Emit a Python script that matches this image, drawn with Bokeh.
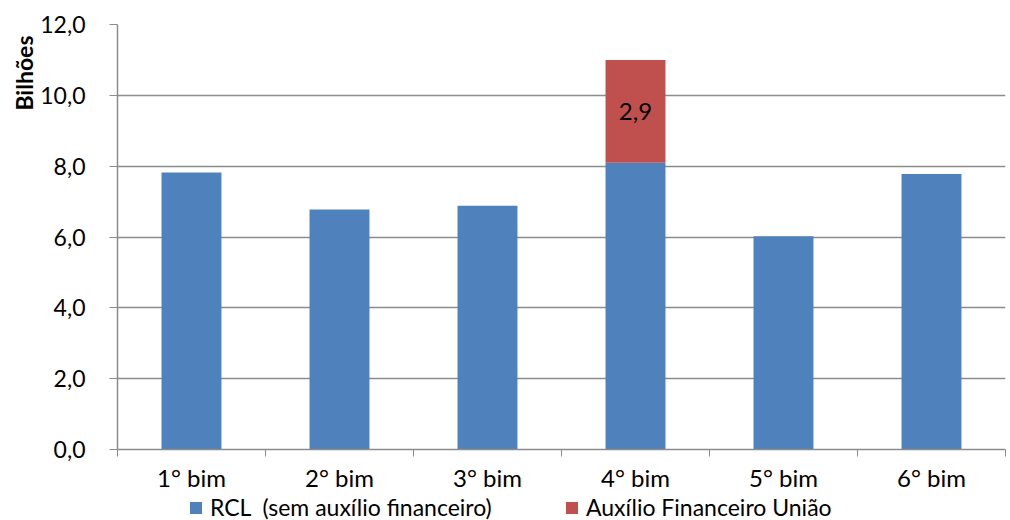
from bokeh.plotting import figure
from bokeh.layouts import column
from bokeh.models import (ColumnDataSource, Range1d, FixedTicker, CustomJSTickFormatter,
                          Legend, LegendItem, Title)
from bokeh.core.properties import value
from bokeh.embed import file_html
from bokeh.resources import INLINE

categories = ["1° bim", "2° bim", "3° bim", "4° bim", "5° bim", "6° bim"]
rcl = [7.82, 6.78, 6.88, 8.10, 6.02, 7.78]
auxilio = [0.0, 0.0, 0.0, 2.9, 0.0, 0.0]
y_ticks = [0, 2, 4, 6, 8, 10, 12]
series_names = ["RCL  (sem auxílio financeiro)", "Auxílio Financeiro União"]

FONT = "Lato"
BLUE = "#4F81BD"
RED = "#C0504D"
GRID = "#8c8c8c"

xs = [i + 0.5 for i in range(len(categories))]
src = ColumnDataSource(dict(x=xs, rcl=rcl, aux=auxilio))

p = figure(width=1010, height=494, output_backend="svg", toolbar_location=None,
           x_range=Range1d(0, len(categories)), y_range=Range1d(0, 12),
           min_border_left=117, min_border_right=5, min_border_top=24, min_border_bottom=42)
p.outline_line_color = None
p.background_fill_color = "white"
p.border_fill_color = "white"

renderers = p.vbar_stack(["rcl", "aux"], x="x", width=0.405, color=[BLUE, RED],
                         line_color=None, source=src)

# data label for auxilio
lab_x = [x for x, a in zip(xs, auxilio) if a > 0]
lab_y = [r + a / 2 for r, a in zip(rcl, auxilio) if a > 0]
lab_t = [("%.1f" % a).replace(".", ",") for a in auxilio if a > 0]
p.text(x=lab_x, y=lab_y, text=lab_t, text_align="center", text_baseline="middle",
       text_font=value(FONT), text_font_size="24px", text_color="black")

# x axis
xax = p.xaxis[0]
xax.ticker = FixedTicker(ticks=xs, minor_ticks=list(range(len(categories) + 1)))
xax.formatter = CustomJSTickFormatter(args=dict(labels=categories),
                                      code="return labels[Math.floor(tick)];")
xax.major_tick_out = 0
xax.major_tick_in = 0
xax.minor_tick_out = 7
xax.minor_tick_in = 0
xax.minor_tick_line_color = GRID
xax.axis_line_color = GRID
xax.axis_line_width = 1.5
xax.major_label_text_font = FONT
xax.major_label_text_font_size = "24px"
xax.major_label_text_color = "black"
xax.major_label_standoff = 6

# y axis
yax = p.yaxis[0]
yax.ticker = FixedTicker(ticks=y_ticks)
yax.formatter = CustomJSTickFormatter(code="return tick.toFixed(1).replace('.', ',');")
yax.major_tick_out = 8
yax.major_tick_in = 0
yax.minor_tick_out = 0
yax.minor_tick_in = 0
yax.major_tick_line_color = GRID
yax.axis_line_color = GRID
yax.axis_line_width = 1.5
yax.major_label_text_font = FONT
yax.major_label_text_font_size = "23px"
yax.major_label_text_color = "black"
yax.major_label_standoff = 24

p.xgrid.grid_line_color = None
p.ygrid.grid_line_color = GRID
p.ygrid.grid_line_width = 1.5
p.ygrid.ticker = FixedTicker(ticks=y_ticks)

p.add_layout(Title(text="Bilhões", align="right", text_font=FONT, text_font_size="23px",
                   text_font_style="bold", text_color="black", offset=11, standoff=0), "left")

# legend strip below the chart (its own renderers sit outside its visible range)
lg = figure(width=1010, height=26, output_backend="svg", toolbar_location=None,
            x_axis_location=None, y_axis_location=None,
            x_range=Range1d(0, len(categories)), y_range=Range1d(100, 101),
            min_border_left=0, min_border_right=0, min_border_top=0, min_border_bottom=0)
lg.outline_line_color = None
lg.xgrid.visible = False
lg.ygrid.visible = False
lg.background_fill_color = "white"
lg.border_fill_color = "white"
k = lg.vbar_stack(["rcl", "aux"], x="x", width=0.0, color=[BLUE, RED],
                  line_color=None, source=src)

legend = Legend(items=[LegendItem(label=series_names[0], renderers=[k[0]]),
                       LegendItem(label=series_names[1], renderers=[k[1]])],
                orientation="horizontal", location=(71, -1),
                border_line_color=None, background_fill_alpha=0,
                label_text_font=FONT, label_text_font_size="23px", label_text_color="black",
                glyph_width=15, glyph_height=15, label_standoff=7, spacing=51,
                label_width=303, padding=0, margin=0, label_height=15)
lg.add_layout(legend, "center")

layout = column(p, lg, spacing=0)
open("out.html", "w").write(file_html(layout, INLINE))
